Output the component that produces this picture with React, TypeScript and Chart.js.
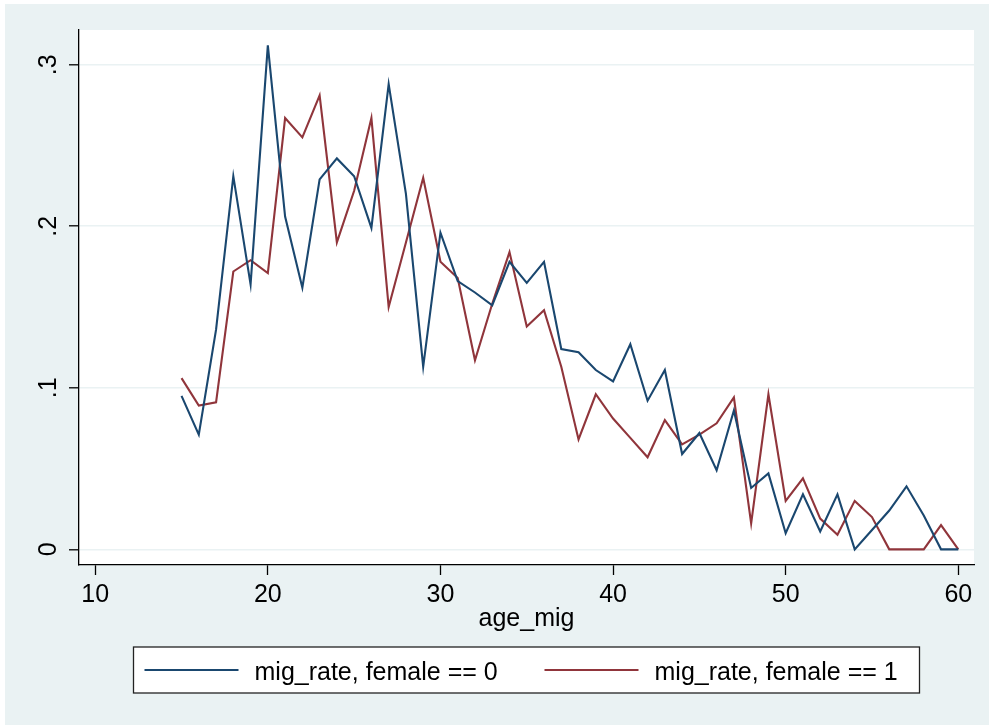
import React, { useEffect, useRef } from "react";
import { Chart, registerables } from "chart.js";

Chart.register(...registerables);

const ages = [15, 16, 17, 18, 19, 20, 21, 22, 23, 24, 25, 26, 27, 28, 29, 30, 31, 32, 33, 34, 35, 36, 37, 38, 39, 40, 41, 42, 43, 44, 45, 46, 47, 48, 49, 50, 51, 52, 53, 54, 55, 56, 57, 58, 59, 60];

const rateFemale0 = [0.095, 0.071, 0.136, 0.231, 0.164, 0.312, 0.206, 0.162, 0.229, 0.242, 0.231, 0.199, 0.288, 0.220, 0.113, 0.196, 0.166, 0.159, 0.151, 0.178, 0.165, 0.178, 0.124, 0.122, 0.111, 0.104, 0.127, 0.092, 0.111, 0.059, 0.072, 0.049, 0.086, 0.038, 0.047, 0.010, 0.034, 0.011, 0.034, 0.0, 0.012, 0.024, 0.039, 0.021, 0.0, 0.0];

const rateFemale1 = [0.106, 0.089, 0.091, 0.172, 0.179, 0.171, 0.267, 0.255, 0.281, 0.190, 0.222, 0.267, 0.150, 0.190, 0.230, 0.178, 0.168, 0.117, 0.152, 0.184, 0.138, 0.148, 0.113, 0.068, 0.096, 0.081, 0.069, 0.057, 0.080, 0.065, 0.071, 0.078, 0.094, 0.016, 0.096, 0.030, 0.044, 0.019, 0.009, 0.030, 0.020, 0.0, 0.0, 0.0, 0.015, 0.0];

const xTicks = [10, 20, 30, 40, 50, 60];
const xTickLabels = ["10", "20", "30", "40", "50", "60"];
const yTicks = [0, 0.1, 0.2, 0.3];
const yTickLabels = ["0", ".1", ".2", ".3"];
const seriesLabels = ["mig_rate, female == 0", "mig_rate, female == 1"];
const seriesColors = ["#1A476F", "#90353B"];
const xTitle = "age_mig";

const FONT = "'Liberation Sans', Arial, Helvetica, sans-serif";
const FS = 25;
const BG = "#EAF2F3";

const bgPlugin = {
  id: "stataBg",
  beforeDraw(chart: any) {
    const { ctx, width, height, chartArea } = chart;
    ctx.save();
    ctx.fillStyle = "#FFFFFF";
    ctx.fillRect(0, 0, width, height);
    ctx.fillStyle = BG;
    ctx.fillRect(5, 4, width - 5, height - 4);
    ctx.fillStyle = "#FFFFFF";
    ctx.fillRect(chartArea.left, chartArea.top, chartArea.right - chartArea.left, chartArea.bottom - chartArea.top);
    ctx.restore();
  },
};

const legendPlugin = {
  id: "stataLegend",
  afterDraw(chart: any) {
    const { ctx, chartArea } = chart;
    const cx = (chartArea.left + chartArea.right) / 2;
    const boxW = 786;
    const boxH = 46;
    const left = cx - boxW / 2;
    const top = 647;
    ctx.save();
    ctx.fillStyle = "#FFFFFF";
    ctx.fillRect(left, top, boxW, boxH);
    ctx.strokeStyle = "#222222";
    ctx.lineWidth = 1.3;
    ctx.strokeRect(left, top, boxW, boxH);
    const offsets = [11, 411];
    chart.data.datasets.forEach((ds: any, i: number) => {
      const sx = left + offsets[i];
      ctx.strokeStyle = ds.borderColor;
      ctx.lineWidth = 2;
      ctx.beginPath();
      ctx.moveTo(sx, top + 23);
      ctx.lineTo(sx + 94, top + 23);
      ctx.stroke();
      ctx.fillStyle = "#000000";
      ctx.font = `${FS}px ${FONT}`;
      ctx.textAlign = "left";
      ctx.textBaseline = "alphabetic";
      ctx.fillText(ds.label, sx + 110, top + 33);
    });
    ctx.restore();
  },
};

export default function App() {
  const ref = useRef<HTMLCanvasElement | null>(null);

  useEffect(() => {
    if (!ref.current) return;
    const chart = new Chart(ref.current, {
      type: "line",
      data: {
        datasets: [rateFemale0, rateFemale1].map((vals, i) => ({
          label: seriesLabels[i],
          data: ages.map((a, j) => ({ x: a, y: vals[j] })),
          borderColor: seriesColors[i],
          backgroundColor: seriesColors[i],
          borderWidth: 2.1,
          pointRadius: 0,
          tension: 0,
          fill: false,
        })),
      },
      options: {
        responsive: false,
        animation: false,
        layout: { padding: { left: 0, top: 30, right: 15, bottom: 90 } },
        plugins: {
          legend: { display: false },
          tooltip: { enabled: false },
        },
        scales: {
          x: {
            type: "linear",
            min: 9.06,
            max: 60.91,
            afterBuildTicks: (scale: any) => {
              scale.ticks = xTicks.map((v) => ({ value: v }));
            },
            afterFit: (scale: any) => {
              scale.height = 70;
            },
            grid: {
              display: true,
              drawOnChartArea: false,
              drawTicks: true,
              tickLength: 10,
              tickColor: "#000000",
              tickWidth: 1.3,
            },
            border: { display: true, color: "#000000", width: 1.3 },
            ticks: {
              padding: 5,
              color: "#000000",
              font: { family: FONT, size: FS },
              maxRotation: 0,
              minRotation: 0,
              autoSkip: false,
              callback: (_v: any, i: number) => xTickLabels[i],
            },
            title: {
              display: true,
              text: xTitle,
              color: "#000000",
              font: { family: FONT, size: FS },
              padding: { top: 0, bottom: 1 },
            },
          },
          y: {
            type: "linear",
            min: -0.0097,
            max: 0.3215,
            afterBuildTicks: (scale: any) => {
              scale.ticks = yTicks.map((v) => ({ value: v }));
            },
            afterFit: (scale: any) => {
              scale.width = 79;
            },
            grid: {
              display: true,
              drawOnChartArea: true,
              color: BG,
              lineWidth: 1.6,
              drawTicks: true,
              tickLength: 10,
              tickColor: "#000000",
              tickWidth: 1.3,
            },
            border: { display: true, color: "#000000", width: 1.3 },
            ticks: {
              padding: 9,
              color: "#000000",
              font: { family: FONT, size: FS },
              minRotation: 90,
              maxRotation: 90,
              crossAlign: "center",
              autoSkip: false,
              callback: (_v: any, i: number) => yTickLabels[i],
            },
          },
        },
      } as any,
      plugins: [bgPlugin, legendPlugin],
    });
    return () => chart.destroy();
  }, []);

  return (
    <div style={{ position: "absolute", left: 0, top: 0, width: 989, height: 725 }}>
      <canvas ref={ref} width={989} height={725} style={{ display: "block" }} />
    </div>
  );
}
